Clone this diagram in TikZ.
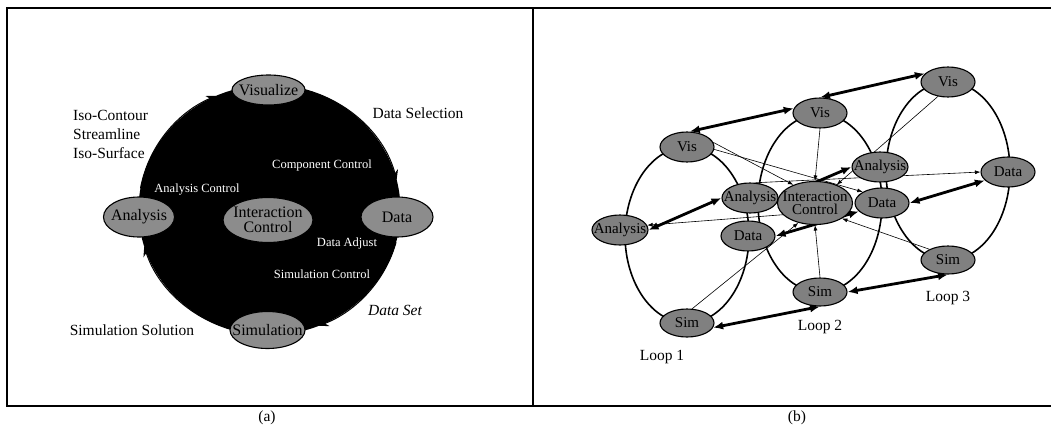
\documentclass[tikz,border=0pt]{standalone}
\usepackage{fontspec}
\setmainfont{Liberation Serif}
\usetikzlibrary{shapes.geometric,arrows.meta,calc}
\pgfdeclarelayer{bg}
\pgfsetlayers{bg,main}
\begin{document}
\begin{tikzpicture}[x=1pt,y=-1pt,
 frame/.style={line width=1.4pt},
 nodea/.style={ellipse, draw=black, line width=1.1pt, fill=black!45, inner sep=0pt},
 nlbl/.style={font=\fontsize{16}{15}\selectfont, inner sep=0pt, text=black, align=center},
 nlbb/.style={font=\fontsize{15}{13}\selectfont, inner sep=0pt, text=black, align=center},
 wl/.style={font=\fontsize{12.5}{13}\selectfont, text=white, inner sep=0pt},
 ol/.style={font=\fontsize{15.5}{17}\selectfont, inner sep=0pt},
 loopline/.style={line width=1.6pt},
 thickarr/.style={line width=2.8pt, {Latex[length=10pt,width=8pt]}-{Latex[length=10pt,width=8pt]}},
 thinarr/.style={line width=0.6pt, -{Latex[length=5.5pt,width=4pt]}},
 circarr/.style={line width=1pt, -{Stealth[length=10pt,width=8pt]}},
 nb/.style={nodea, fill=black!50, minimum width=54pt, minimum height=30pt},
]
\useasboundingbox (0,0) rectangle (1051,431);
% frame
\draw[frame] (1051,8) -- (7,8) -- (7,406) -- (1051,406);
\draw[frame] (533,8) -- (533,406);
\node[ol] (capa) at (267,418) {(a)};
\node[ol] (capb) at (797,418) {(b)};

% ---------------- panel (a)
\coordinate (ca) at (269.5,210);
\fill[black] (ca) ellipse [x radius=131pt, y radius=125pt];
\draw[circarr] ($(ca)+(170:131pt and 125pt)$) arc[start angle=170, end angle=114, x radius=131pt, y radius=125pt];
\draw[circarr] ($(ca)+(75:131pt and 125pt)$) arc[start angle=75, end angle=14, x radius=131pt, y radius=125pt];
\draw[circarr] ($(ca)+(-15:131pt and 125pt)$) arc[start angle=-15, end angle=-68, x radius=131pt, y radius=125pt];
\draw[circarr] ($(ca)+(255:131pt and 125pt)$) arc[start angle=255, end angle=197, x radius=131pt, y radius=125pt];

\node[nodea, minimum width=73pt, minimum height=30pt, label={[nlbl]center:Visualize}] (vis) at (268.5,90) {};
\node[nodea, minimum width=71pt, minimum height=40pt, label={[nlbl]center:Analysis}] (ana) at (139,217) {};
\node[nodea, minimum width=72pt, minimum height=40pt, label={[nlbl]center:Data}] (dat) at (397,217) {};
\node[nodea, minimum width=75pt, minimum height=37pt, label={[nlbl]center:Simulation}] (simu) at (267.5,330) {};
\node[nodea, minimum width=90pt, minimum height=45pt, label={[nlbl]center:Interaction\\Control}] (ica) at (268,220) {};

\node[wl] (cc) at (322,165) {Component Control};
\node[wl] (ac) at (197,190) {Analysis Control};
\node[wl] (dadj) at (347,243) {Data Adjust};
\node[wl] (sc) at (322,274) {Simulation Control};

\node[ol, anchor=west] (iso1) at (73,115) {Iso-Contour};
\node[ol, anchor=west] (iso2) at (73,134) {Streamline};
\node[ol, anchor=west] (iso3) at (73,153) {Iso-Surface};
\node[ol] (dsel) at (418,113) {Data Selection};
\node[ol, font=\fontsize{15.5}{17}\selectfont\itshape] (dset) at (395,310) {Data Set};
\node[ol] (ssol) at (132,330) {Simulation Solution};

% ---------------- panel (b)
\node[nb, label={[nlbb]center:Vis}] (vis1) at (687,147) {};
\node[nb, label={[nlbb]center:Vis}] (vis2) at (820,113) {};
\node[nb, label={[nlbb]center:Vis}] (vis3) at (948,82) {};
\node[nb, minimum width=56pt, label={[nlbb]center:Analysis}] (an1) at (620,230) {};
\node[nb, minimum width=56pt, label={[nlbb]center:Analysis}] (an2) at (750,198) {};
\node[nb, minimum width=56pt, label={[nlbb]center:Analysis}] (an3) at (880,167) {};
\node[nb, label={[nlbb]center:Data}] (da1) at (748,236) {};
\node[nb, label={[nlbb]center:Data}] (da2) at (882,203) {};
\node[nb, label={[nlbb]center:Data}] (da3) at (1008,172) {};
\node[nb, minimum height=28pt, label={[nlbb]center:Sim}] (sim1) at (687,323) {};
\node[nb, minimum height=28pt, label={[nlbb]center:Sim}] (sim2) at (820,292) {};
\node[nb, minimum height=28pt, label={[nlbb]center:Sim}] (sim3) at (948,260) {};
\node[nb, minimum width=75pt, minimum height=43pt, label={[nlbb]center:Interaction\\Control}] (ic) at (815,203) {};

\node[ol] (lp1) at (662,357) {Loop 1};
\node[ol] (lp2) at (820,327) {Loop 2};
\node[ol] (lp3) at (948,298) {Loop 3};

\coordinate (l1c) at (687,235);
\coordinate (l2c) at (820,203);
\coordinate (l3c) at (948,171);

\begin{pgfonlayer}{bg}
\draw[loopline] (l1c) ellipse [x radius=62pt, y radius=88pt];
\draw[loopline] (l2c) ellipse [x radius=62pt, y radius=89pt];
\draw[loopline] (l3c) ellipse [x radius=62pt, y radius=89pt];

\draw[thickarr] (vis1.80) -- (vis2.170);
\draw[thickarr] (vis2.north) -- (vis3.160);
\draw[thickarr] (an1.east) -- (an2.west);
\draw[thickarr] (an2.east) -- (an3.west);
\draw[thickarr] (da1.east) -- (da2.200);
\draw[thickarr] (da2.east) -- (da3.200);
\draw[thickarr] (sim1.-10) -- (sim2.south);
\draw[thickarr] (sim2.east) -- (sim3.south);

\draw[thinarr] (vis1.10) -- (ic.140);
\draw[thinarr] (vis1.-5) -- (da2.150);
\draw[thinarr] (vis2.south) -- (ic.north);
\draw[thinarr] (vis3.235) -- (ic.40);
\draw[thinarr] (an2.70) -- (da3.west);
\draw[thinarr] (ic.200) -- (an1.10);
\draw[thinarr] (sim1.70) -- (ic.230);
\draw[thinarr] (sim2.north) -- (ic.south);
\draw[thinarr] (sim3.150) -- (ic.330);
\end{pgfonlayer}
\end{tikzpicture}
\end{document}
